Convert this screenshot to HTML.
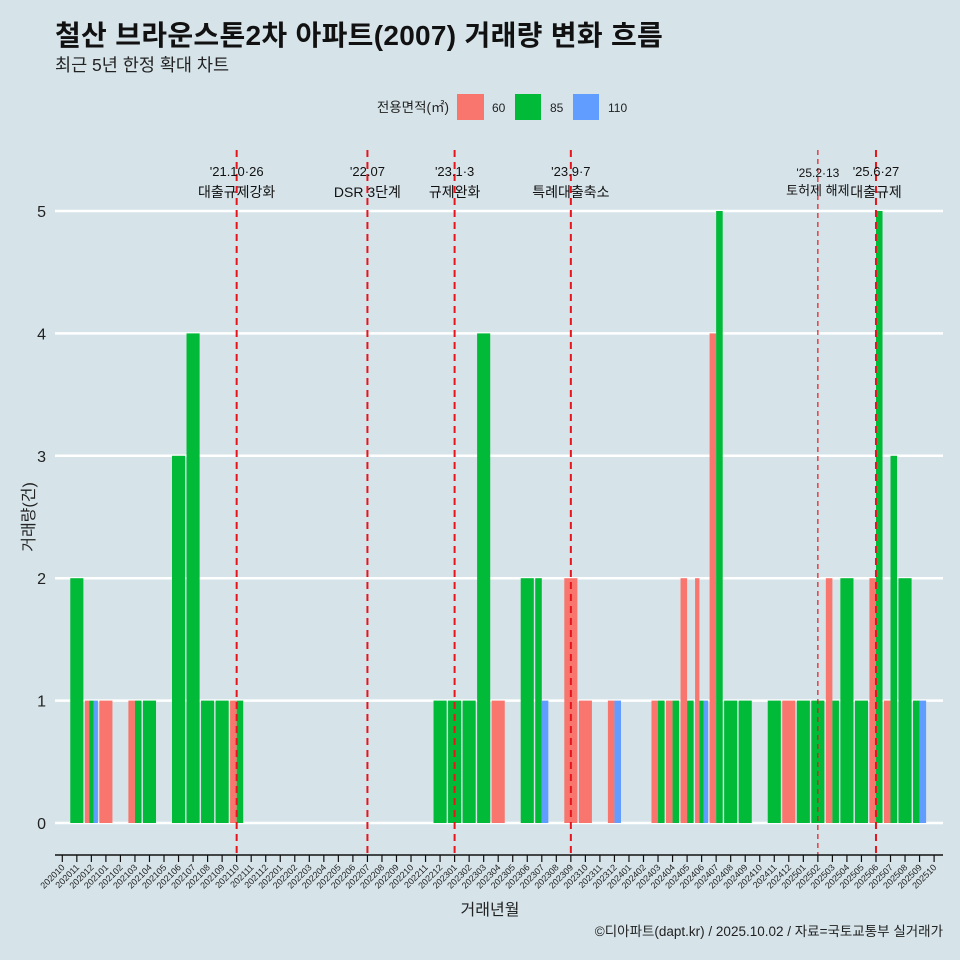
<!DOCTYPE html>
<html><head><meta charset="utf-8"><style>
body{margin:0;background:#d6e4ea;}
svg{display:block;font-family:"Liberation Sans","Noto Sans CJK KR",sans-serif;}
</style></head><body>
<svg id="chart" width="960" height="960" xmlns="http://www.w3.org/2000/svg">
<rect width="960" height="960" fill="#d6e4ea"/>
<text x="55" y="45" font-size="28" font-weight="bold" fill="#111" letter-spacing="0.3">철산 브라운스톤2차 아파트(2007) 거래량 변화 흐름</text>
<text x="55" y="71" font-size="17.5" fill="#222">최근 5년 한정 확대 차트</text>
<g>
<text x="449" y="112" font-size="13.5" text-anchor="end" fill="#222">전용면적(㎡)</text>
<rect x="457" y="94" width="27" height="26" fill="#F8766D"/>
<text x="492" y="112" font-size="12" fill="#222">60</text>
<rect x="515" y="94" width="26" height="26" fill="#00BA38"/>
<text x="550" y="112" font-size="12" fill="#222">85</text>
<rect x="573" y="94" width="26" height="26" fill="#619CFF"/>
<text x="608" y="112" font-size="12" fill="#222">110</text>
</g>
<g id="grid"></g><g id="bars"></g><g id="events"></g><g id="axis"></g>
<text x="490" y="915" font-size="16" text-anchor="middle" fill="#222">거래년월</text>
<text x="34" y="517" font-size="16" text-anchor="middle" fill="#222" transform="rotate(-90 34 517)">거래량(건)</text>
<text x="943" y="936" font-size="13.5" text-anchor="end" fill="#222">©디아파트(dapt.kr) / 2025.10.02 / 자료=국토교통부 실거래가</text>
</svg>
<script>
const months=["202010","202011","202012","202101","202102","202103","202104","202105","202106","202107","202108","202109","202110","202111","202112","202201","202202","202203","202204","202205","202206","202207","202208","202209","202210","202211","202212","202301","202302","202303","202304","202305","202306","202307","202308","202309","202310","202311","202312","202401","202402","202403","202404","202405","202406","202407","202408","202409","202410","202411","202412","202501","202502","202503","202504","202505","202506","202507","202508","202509","202510"];
const s60 =[0,0,1,1,0,1,0,0,0,0,0,0,1,0,0,0,0,0,0,0,0,0,0,0,0,0,0,0,0,0,1,0,0,0,0,2,1,0,1,0,0,1,1,2,2,4,0,0,0,0,1,0,0,2,0,0,2,1,0,0,0];
const s85 =[0,2,1,0,0,1,1,0,3,4,1,1,1,0,0,0,0,0,0,0,0,0,0,0,0,0,1,1,1,4,0,0,2,2,0,0,0,0,0,0,0,1,1,1,1,5,1,1,0,1,0,1,1,1,2,1,5,3,2,1,0];
const s110=[0,0,1,0,0,0,0,0,0,0,0,0,0,0,0,0,0,0,0,0,0,0,0,0,0,0,0,0,0,0,0,0,0,1,0,0,0,0,1,0,0,0,0,0,1,0,0,0,0,0,0,0,0,0,0,0,0,0,0,1,0];
const yTicks=[0,1,2,3,4,5];
const eventMonths=["202110","202207","202301","202309","202502","202506"];
const eventDates=["'21.10·26","'22.07","'23.1·3","'23.9·7","'25.2·13","'25.6·27"];
const eventLabels=["대출규제강화","DSR 3단계","규제완화","특례대출축소","토허제 해제","대출규제"];
const NS="http://www.w3.org/2000/svg";
const X0=62.3,DX=14.53,Y0=823,DY=122.4;
const xs=i=>X0+i*DX, ys=v=>Y0-v*DY;
function mk(t,a,p){const e=document.createElementNS(NS,t);for(const k in a)e.setAttribute(k,a[k]);p.appendChild(e);return e;}
const grid=document.getElementById('grid');
yTicks.forEach(t=>{
 const l=mk('line',{x1:55,x2:943,y1:ys(t),y2:ys(t),stroke:'#fff','stroke-width':2.5},grid);
 
 
 const tx=mk('text',{x:46,y:ys(t)+6,'font-size':16,'text-anchor':'end',fill:'#222'},grid);
 tx.textContent=t;
 
 
});
const bars=document.getElementById('bars');
const series=[[s60,'#F8766D','60'],[s85,'#00BA38','85'],[s110,'#619CFF','110']];
const W=13.1;
months.forEach((m,i)=>{
 const present=series.filter(s=>s[0][i]>0);
 const w=W/Math.max(present.length,1);
 present.forEach((s,j)=>{
  const v=s[0][i];
  const r=mk('rect',{x:xs(i)-W/2+j*w,y:ys(v),width:w,height:Y0-ys(v),fill:s[1]},bars);
  
  
 });
});
const ev=document.getElementById('events');
eventMonths.forEach((m,k)=>{
 const x=xs(months.indexOf(m));
 const thin=m==="202502";
 const l=mk('line',{x1:x,x2:x,y1:150,y2:856,stroke:'#e8141b','stroke-width':thin?1.2:2,'stroke-dasharray':thin?'5,4':'7,5'},ev);
 
 
 const t1=mk('text',{x:x,y:thin?177:176,'font-size':thin?12:13,'text-anchor':'middle',fill:'#111'},ev);
 t1.textContent=eventDates[k];
 
 
 const t2=mk('text',{x:x,y:thin?195:197,'font-size':thin?13:14,'text-anchor':'middle',fill:'#111'},ev);
 t2.textContent=eventLabels[k];
 
 
});
const ax=document.getElementById('axis');
const al=mk('line',{x1:55,x2:943,y1:855,y2:855,stroke:'#111','stroke-width':1.5},ax);


months.forEach((m,i)=>{
 const x=xs(i);
 const tk=mk('line',{x1:x,x2:x,y1:855,y2:862,stroke:'#111','stroke-width':1.2},ax);
 
 
 const t=mk('text',{x:x+3,y:868,'font-size':9,'text-anchor':'end',fill:'#222',transform:`rotate(-45 ${x+3} 868)`},ax);
 t.textContent=m;
 
 
});
</script>
</body></html>
